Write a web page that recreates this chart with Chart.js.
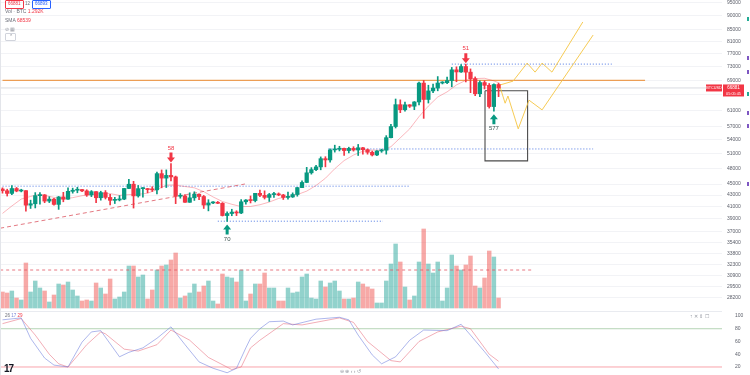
<!DOCTYPE html>
<html>
<head>
<meta charset="utf-8">
<script src="https://cdn.jsdelivr.net/npm/chart.js@4.4.1/dist/chart.umd.min.js"></script>
<style>
  body { margin: 0; background: #fff; }
  #wrap { position: relative; width: 750px; height: 375px; overflow: hidden; font-family: "Liberation Sans", Arial, sans-serif; }
  canvas { position: absolute; left: 0; }
  #price-chart { top: 0; }
  #stoch-chart { top: 311px; }
  .t { position: absolute; white-space: nowrap; line-height: 1; font-size: 5px; color: #6a6d78; }
  .box { position: absolute; line-height: 1; font-size: 4.5px; padding: 1px 2px; border-radius: 1px; }
  .mk { position: absolute; left: 747px; width: 2px; height: 4px; }
</style>
</head>
<body>
<div id="wrap">
  <canvas id="price-chart" width="750" height="311"></canvas>
  <canvas id="stoch-chart" width="750" height="64"></canvas>
  <div style="position:absolute;left:0;top:311px;width:722px;height:1px;background:#e9ebf0"></div>
  <div style="position:absolute;left:0;top:0;width:1px;height:375px;background:#e3e5ea"></div>

  <!-- legend, top left -->
  <div class="box" style="left:5px;top:0;color:#f23645;border:0.5px solid #f23645">66881</div>
  <div class="t" style="left:25px;top:2px;font-size:4.5px">12</div>
  <div class="box" style="left:32px;top:0;color:#2962ff;border:0.5px solid #2962ff">66893</div>
  <div class="t" style="left:5px;top:9px">Vol · BTC <span style="color:#f23645">1.292K</span></div>
  <div class="t" style="left:5px;top:18px">SMA <span style="color:#f23645">68539</span></div>
  <div class="t" style="left:5px;top:27px;color:#9598a1">⊘ ▦</div>
  <div class="t" style="left:5px;top:33px;width:9px;height:6px;border:0.5px solid #d1d4dc;border-radius:1px;text-align:center;font-size:5px;color:#787b86">⌃</div>

  <!-- stoch legend and pane buttons -->
  <div class="t" style="left:5px;top:314px;font-size:4.5px">26 <span style="color:#7b86d6">17</span> <span style="color:#f23645">29</span></div>
  <div class="t" style="left:690px;top:314px;font-size:5px;color:#9598a1">↑ ✕ ⇕ ☐</div>

  <!-- bottom -->
  <div class="t" style="left:4px;top:364px;font-size:10px;font-weight:bold;color:#131722;letter-spacing:-1px">17</div>
  <div class="t" style="left:340px;top:369px;font-size:5px;color:#9598a1">⊖ ⊕ ‹ › ↺</div>

  <!-- right toolbar marks -->
  <div class="mk" style="top:17px;background:#22ab94"></div>
  <div class="mk" style="top:56px;background:#7e57c2"></div>
  <div class="mk" style="top:70px;background:#7e57c2"></div>
  <div class="mk" style="top:92px;background:#22ab94"></div>
  <div class="mk" style="top:111px;background:#7e57c2"></div>
  <div class="mk" style="top:124px;background:#7e57c2"></div>
  <div class="mk" style="top:182px;background:#7e57c2"></div>
</div>
<script>
// daily BTC candles, one per index (roughly early Dec to late Mar)
const opens = [44080,43770,43290,44170,43720,43790,41240,41480,42890,43020,
  41940,42280,41370,42660,42270,43660,43860,43990,43740,43020,
  43610,42520,43440,42580,42070,42140,42280,44180,44960,42850,
  44150,44160,43970,43930,46970,46110,46630,46340,42780,42840,
  41730,42510,43150,42740,41260,41620,41660,41560,39510,39840,
  40080,39930,41820,42120,42030,43300,42940,42580,43080,43200,
  43010,42580,42660,43090,44340,45290,47130,47750,48290,49960,
  49700,51800,51940,52130,51660,52120,51780,52260,51850,51300,
  50730,51570,51730,54480,57040,62430,61130,62390,62030,63130,
  68240,63780,66080,66850,68260,68360,68960,72080,71450,73070,
  71390,69500,65300,68390,67610,61940,67840];
const highs = [44300,44050,44700,44370,44040,43800,42100,43430,43420,43090,
  42700,42430,42750,43480,44280,44240,44400,44020,43950,43800,
  43610,43680,43800,43120,42600,42900,44180,45900,45500,44730,
  44340,44190,44500,47250,47690,47700,48970,46500,43260,43080,
  43400,43580,43200,42930,42180,41870,41880,41680,40130,40550,
  40300,42200,42200,42840,43300,43880,43750,43290,43490,43380,
  43120,43540,43390,44380,45600,48200,48150,48590,50330,50370,
  52040,52820,52580,52190,52380,52490,52980,52370,52000,51550,
  51680,51960,54940,57580,63900,63680,63100,62430,63230,68500,
  69000,67640,67990,70100,68650,69950,72800,72970,73650,73780,
  72350,70000,68900,68920,68120,68030,68240];
const lows = [43330,42820,43080,43580,43560,40220,40680,40770,41400,41660,
  41680,41250,40530,41820,42210,43330,43400,43580,42760,42720,
  41680,42100,42300,41300,41520,41970,42180,44150,40750,42630,
  42630,43400,43630,43180,44300,44350,45600,41500,42440,41720,
  41720,42050,42200,40680,40280,41500,41500,39430,38550,39480,
  39500,39820,41390,41620,41800,42690,42300,41880,42580,42880,
  42220,42260,42570,42790,44330,45240,46870,47540,47720,48300,
  49250,51330,51580,50630,51160,51540,50620,50880,50900,50520,
  50580,51280,50900,54450,56700,60400,60790,61700,61150,62380,
  59000,62850,65580,66100,68000,68100,67200,68620,71340,68560,
  65600,64780,64550,66600,61550,60780,64530];
const closes = [43770,43290,44170,43720,43790,41240,41480,42890,43020,41940,
  42280,41370,42660,42270,43660,43860,43990,43740,43020,43610,
  42520,43440,42580,42070,42140,42280,44180,44960,42850,44150,
  44160,43970,43930,46970,46110,46630,46340,42780,42840,41730,
  42510,43150,42740,41260,41620,41660,41560,39510,39840,40080,
  39930,41820,42120,42030,43300,42940,42580,43080,43200,43010,
  42580,42660,43090,44340,45290,47130,47750,48290,49960,49700,
  51800,51940,52130,51660,52120,51780,52260,51850,51300,50730,
  51570,51730,54480,57040,62430,61130,62390,62030,63130,68240,
  63780,66080,66850,68260,68360,68960,72080,71450,73070,71390,
  69500,65300,68390,67610,61940,67840,66881];
// volume, thousand BTC (approx.)
const volumes = [16,15,17,10,8,45,16,27,20,17,
  6,13,24,23,26,18,12,7,8,7,
  25,20,14,29,9,11,16,42,42,31,
  33,9,18,38,42,43,48,55,10,12,
  15,24,16,22,27,7,4,34,31,30,
  26,38,7,14,24,24,35,20,20,7,
  7,20,15,16,31,34,10,9,27,21,
  25,27,17,9,9,10,26,24,21,19,
  5,5,27,44,64,46,21,8,12,46,
  79,44,35,46,7,20,53,42,38,43,
  52,22,20,30,57,51,10];
const volumeAvg = 38;

// SMA line, [candle index, value]
const smaPoints = [[0,39860],[2,41100],[4,42290],[6,42750],[8,43150],[9,42930],[11,42590],[13,42290],
  [15,42540],[17,42880],[19,43050],[21,43280],[23,43250],[25,42940],[27,43080],[29,43120],
  [31,43330],[33,43960],[35,44790],[37,44790],[39,44540],[41,44300],[43,43610],[45,42660],
  [47,41860],[49,41390],[51,41000],[53,41020],[55,41310],[57,41770],[59,42400],[61,42750],
  [63,43080],[65,43700],[67,44730],[69,46080],[71,47930],[73,49570],[75,50710],[77,51520],
  [79,51760],[81,51710],[83,52490],[85,54450],[87,56480],[89,59420],[91,62070],[93,64430],
  [95,65810],[97,67720],[99,69030],[101,69520],[103,69610],[105,68860],[106,68340]];

// stochastic %K / %D, [candle index, value]
const stochK = [[0,94],[4,97],[6,65],[9,34],[11,23],[14,20],[17,59],[19,75],[21,77],[25,36],
  [27,43],[30,50],[33,65],[36,83],[39,55],[42,28],[45,18],[48,11],[50,18],[52,50],
  [53,65],[55,80],[57,91],[60,92],[62,86],[67,95],[72,98],[74,94],[76,70],[79,39],
  [81,25],[84,36],[87,62],[90,78],[95,77],[98,87],[100,70],[103,44],[106,17]];
const stochD = [[0,88],[4,96],[7,70],[10,40],[12,25],[14,20],[18,55],[21,75],[22,72],[26,48],
  [29,45],[33,55],[36,78],[40,62],[44,35],[49,16],[51,20],[53,50],[55,62],[60,88],
  [64,86],[72,97],[75,90],[78,60],[83,30],[85,28],[89,60],[93,75],[98,84],[100,80],
  [104,40],[106,29]];

const priceTicks = [95000,90000,85000,81000,77000,73000,69000,65000,61000,57000,54000,51000,
  48000,45000,43000,41000,39000,37000,35400,33800,32300,30900,29500,28200];
const stochTicks = [100,80,60,40,20];

// drawings: [price, from index, to index]
const athLevel = [69000, 0, 137.3];
const dottedLevels = [[44600, 0, 87], [38600, 46, 81.3], [52000, 69.6, 126.2], [73800, 96, 130.2]];
const trendLine = [[-0.5, 37500], [51.8, 45000]];
const pathUp = [[106.3,67700],[109.1,68800],[112.1,74100],[113.8,71400],[115.3,74100],[117.4,71400],[124,87800]];
const pathDown = [[106.3,67200],[107.4,62800],[108,64700],[110.2,56500],[112.5,63600],[115.3,61100],[126.2,83200]];
const zone = { from: 103.1, to: 112.2, top: 66100, bottom: 49500 };
const markers = [
  { i: 36, dir: 'down', text: '58', color: '#f23645' },
  { i: 48, dir: 'up', text: '70', color: '#3f5552' },
  { i: 99, dir: 'down', text: '51', color: '#f23645' },
  { i: 105, dir: 'up', text: '577', color: '#3f5552' }
];
const symbol = 'BTCUSD';
const countdown = '05:05:45';

const X_MIN = -0.534, X_MAX = 153.74;
const FONT = '"Liberation Sans", Arial, sans-serif';
const UP = '#089981', DOWN = '#f23645';

const pts = arr => arr.map(p => ({ x: p[0], y: p[1] }));
const idx = closes.map((_, i) => i);
const candleColors = idx.map(i => closes[i] >= opens[i] ? UP : DOWN);
const volColors = idx.map(i => closes[i] >= opens[i] ? 'rgba(38,166,154,0.5)' : 'rgba(239,83,80,0.5)');
const lastClose = closes[closes.length - 1];

function line(data, color, width, dash, yAxisID, order) {
  return {
    type: 'line', data: data, borderColor: color, borderWidth: width, borderDash: dash || [],
    pointRadius: 0, pointHoverRadius: 0, fill: false, tension: 0, yAxisID: yAxisID || 'y', order: order || 5
  };
}

const overlay = {
  id: 'overlay',
  afterDatasetsDraw(chart) {
    const { ctx, scales: { x, y } } = chart;
    markers.forEach(m => {
      const up = m.dir === 'up';
      const s = up ? 1 : -1;
      const px = x.getPixelForValue(m.i);
      const py = y.getPixelForValue(up ? lows[m.i] : highs[m.i]) + (up ? 3 : -1);
      ctx.save();
      ctx.fillStyle = up ? UP : DOWN;
      ctx.beginPath();
      ctx.moveTo(px, py);
      ctx.lineTo(px + 4, py + s * 5);
      ctx.lineTo(px + 1.5, py + s * 5);
      ctx.lineTo(px + 1.5, py + s * 10);
      ctx.lineTo(px - 1.5, py + s * 10);
      ctx.lineTo(px - 1.5, py + s * 5);
      ctx.lineTo(px - 4, py + s * 5);
      ctx.closePath();
      ctx.fill();
      ctx.fillStyle = m.color;
      ctx.font = '6px ' + FONT;
      ctx.textAlign = 'center';
      ctx.textBaseline = up ? 'top' : 'bottom';
      ctx.fillText(m.text, px, py + s * 11.5);
      ctx.restore();
    });
  },
  afterDraw(chart) {
    const { ctx, chartArea, scales: { y } } = chart;
    const py = y.getPixelForValue(lastClose);
    const r = chartArea.right;
    ctx.save();
    ctx.fillStyle = DOWN;
    ctx.fillRect(r - 16, py - 3.5, 16, 7);
    ctx.fillRect(r + 1, py - 3.5, 21, 12);
    ctx.fillStyle = '#fff';
    ctx.font = '3.8px ' + FONT;
    ctx.textAlign = 'center';
    ctx.textBaseline = 'middle';
    ctx.fillText(symbol, r - 8, py);
    ctx.font = '4.5px ' + FONT;
    ctx.fillText(String(lastClose), r + 11.5, py);
    ctx.font = '3.8px ' + FONT;
    ctx.fillText(countdown, r + 11.5, py + 5.5);
    ctx.restore();
  }
};

const priceDatasets = [
  {
    type: 'bar', data: idx.map(i => ({ x: i, y: volumes[i] })), yAxisID: 'vol',
    backgroundColor: volColors, barThickness: 3.8, order: 10
  },
  line([{ x: X_MIN, y: lastClose }, { x: X_MAX, y: lastClose }], '#c8cbd2', 0.7, null, 'y', 9),
  line([{ x: -0.5, y: volumeAvg }, { x: 113, y: volumeAvg }], '#e25563', 0.8, [3, 3], 'vol', 8),
  line(pts(trendLine), '#e06a74', 0.9, [4, 3], 'y', 6),
  line([{ x: athLevel[1], y: athLevel[0] }, { x: athLevel[2], y: athLevel[0] }], '#ec9e55', 1.4, null, 'y', 6)
];
dottedLevels.forEach(l => {
  priceDatasets.push(line([{ x: l[1], y: l[0] }, { x: l[2], y: l[0] }], '#6a8de8', 1, [1.2, 1.8], 'y', 6));
});
priceDatasets.push(
  line(pts(smaPoints), 'rgba(242,54,69,0.45)', 0.8, null, 'y', 4),
  line(pts(pathUp), '#f5c542', 0.9, null, 'y', 3),
  line(pts(pathDown), '#f5c542', 0.9, null, 'y', 3),
  line(pts([[zone.from, zone.top], [zone.to, zone.top], [zone.to, zone.bottom], [zone.from, zone.bottom], [zone.from, zone.top]]),
    '#4b4b4b', 1.1, null, 'y', 3),
  {
    type: 'bar', data: idx.map(i => ({ x: i, y: [lows[i], highs[i]] })),
    backgroundColor: candleColors, barThickness: 1, order: 2
  },
  {
    type: 'bar', data: idx.map(i => ({ x: i, y: [opens[i], closes[i]] })),
    backgroundColor: candleColors, barThickness: 3.6, minBarLength: 1, order: 1
  }
);

new Chart(document.getElementById('price-chart').getContext('2d'), {
  type: 'bar',
  data: { datasets: priceDatasets },
  options: {
    responsive: false,
    animation: false,
    events: [],
    layout: { padding: 0, autoPadding: false },
    datasets: { bar: { grouped: false } },
    plugins: { legend: { display: false }, tooltip: { enabled: false } },
    scales: {
      x: { type: 'linear', bounds: 'data', min: X_MIN, max: X_MAX, offset: false, display: false },
      y: {
        type: 'logarithmic', position: 'right', bounds: 'data', min: 26650, max: 96140,
        afterBuildTicks: s => { s.ticks = priceTicks.map(v => ({ value: v })); },
        afterFit: s => { s.width = 28; s.paddingTop = 0; s.paddingBottom = 0; },
        ticks: { autoSkip: false, padding: 5, color: '#5d606b', font: { size: 5, family: FONT }, callback: v => String(v) },
        grid: { color: '#f2f3f6', drawTicks: false },
        border: { display: false }
      },
      vol: { type: 'linear', display: false, bounds: 'data', min: -3, max: 308 }
    }
  },
  plugins: [overlay]
});

new Chart(document.getElementById('stoch-chart').getContext('2d'), {
  type: 'line',
  data: {
    datasets: [
      line([{ x: X_MIN, y: 80 }, { x: X_MAX, y: 80 }], 'rgba(90,160,90,0.45)', 1, null, 'y', 5),
      line([{ x: X_MIN, y: 20 }, { x: X_MAX, y: 20 }], 'rgba(242,54,69,0.45)', 1, null, 'y', 5),
      line(pts(stochD), 'rgba(232,110,125,0.7)', 0.8, null, 'y', 2),
      line(pts(stochK), 'rgba(110,125,220,0.7)', 0.8, null, 'y', 1)
    ]
  },
  options: {
    responsive: false,
    animation: false,
    events: [],
    layout: { padding: 0, autoPadding: false },
    plugins: { legend: { display: false }, tooltip: { enabled: false } },
    scales: {
      x: { type: 'linear', bounds: 'data', min: X_MIN, max: X_MAX, offset: false, display: false },
      y: {
        position: 'right', bounds: 'data', min: 7.45, max: 107.84,
        afterBuildTicks: s => { s.ticks = stochTicks.map(v => ({ value: v })); },
        afterFit: s => { s.width = 28; s.paddingTop = 0; s.paddingBottom = 0; },
        ticks: { autoSkip: false, padding: 5, color: '#5d606b', font: { size: 5, family: FONT } },
        grid: { display: false },
        border: { display: false }
      }
    }
  }
});
</script>
</body>
</html>
